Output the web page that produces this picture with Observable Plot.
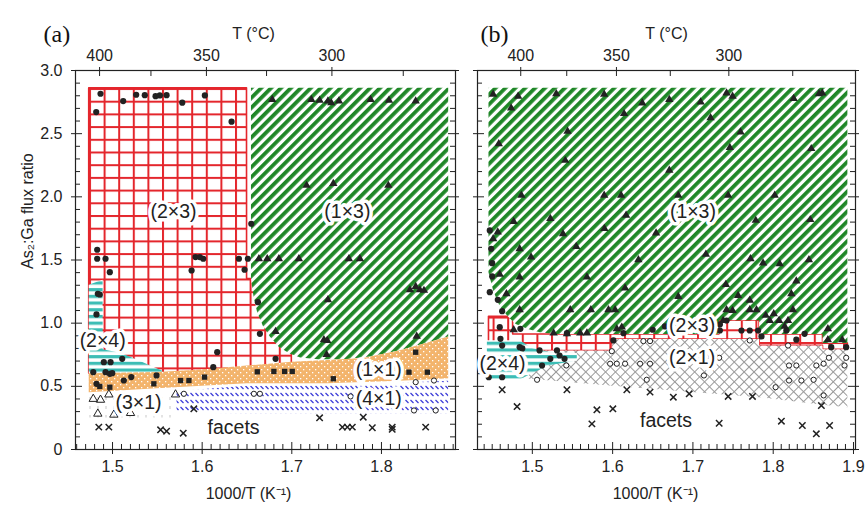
<!DOCTYPE html>
<html><head><meta charset="utf-8">
<script src="https://cdn.jsdelivr.net/npm/d3@7"></script>
<script src="https://cdn.jsdelivr.net/npm/@observablehq/plot@0.6"></script>
<style>
body{margin:0;background:#fff;}
#wrap{position:relative;width:865px;height:513px;overflow:hidden;background:#fff;}
#pa{position:absolute;left:0;top:0;}
#pb{position:absolute;left:462px;top:0;}
</style></head><body>
<svg width="0" height="0" style="position:absolute">
<defs>
 <pattern id="pRed" patternUnits="userSpaceOnUse" width="14.6" height="12.7" x="89" y="88">
   <rect width="14.6" height="12.7" fill="white"/>
   <rect width="2" height="12.7" fill="#e4262c"/>
   <rect width="14.6" height="2" fill="#e4262c"/>
 </pattern>
 <pattern id="pGreen" patternUnits="userSpaceOnUse" width="7" height="7" patternTransform="rotate(45)">
   <rect width="7" height="7" fill="white"/>
   <rect width="3.8" height="7" fill="#1f8727"/>
 </pattern>
 <pattern id="pCyan" patternUnits="userSpaceOnUse" width="8" height="6.7">
   <rect width="8" height="6.7" fill="white"/>
   <rect width="8" height="3.2" fill="#3dbdb5"/>
 </pattern>
 <pattern id="pOrange" patternUnits="userSpaceOnUse" width="6" height="6">
   <rect width="6" height="6" fill="#f3b46c"/>
   <rect x="0" y="0" width="1.3" height="1.3" fill="white"/>
   <rect x="3" y="3" width="1.3" height="1.3" fill="white"/>
 </pattern>
 <pattern id="pBlue" patternUnits="userSpaceOnUse" width="5" height="7">
   <rect width="5" height="7" fill="white"/>
   <line x1="0.5" y1="1" x2="3.5" y2="4" stroke="#3b3bd8" stroke-width="1.3"/>
 </pattern>
 <pattern id="pGray" patternUnits="userSpaceOnUse" width="7" height="7" patternTransform="rotate(45)">
   <rect width="7" height="7" fill="white"/>
   <line x1="0" y1="0.5" x2="7" y2="0.5" stroke="#9a9a9a" stroke-width="1"/>
   <line x1="0.5" y1="0" x2="0.5" y2="7" stroke="#9a9a9a" stroke-width="1"/>
 </pattern>
 <pattern id="pFaint" patternUnits="userSpaceOnUse" width="8" height="9">
   <rect width="8" height="9" fill="white"/>
   <line x1="2" y1="1" x2="2" y2="4" stroke="#c8c8c8" stroke-width="1"/>
 </pattern>
</defs></svg>
<div id="wrap"><div id="pa"></div><div id="pb"></div></div>
<script>
// ---------- tick labels ----------
const xMajorA = [1.5, 1.6, 1.7, 1.8];
const xMajorB = [1.5, 1.6, 1.7, 1.8, 1.9];
const yMajor = [0, 0.5, 1.0, 1.5, 2.0, 2.5, 3.0];
const tMajor = [400, 350, 300];
const tMinor = [375, 325, 275];
const xTitle = "1000/T (K\u207B\u00B9)";
const tTitle = "T (\u00B0C)";
const yTitle = "As\u2082:Ga flux ratio";

// ---------- regions [x, y1, y2] ----------
const redA = [[1.474,0.60,2.86],[1.650,0.60,2.86],[1.6501,0.60,1.35],[1.700,0.64,1.35]];
const greenA = [[1.655,1.35,2.86],[1.658,1.2,2.86],[1.662,1.08,2.86],[1.668,0.98,2.86],[1.676,0.89,2.86],[1.686,0.81,2.86],[1.698,0.755,2.86],[1.71,0.725,2.86],[1.73,0.71,2.86],[1.76,0.71,2.86],[1.79,0.735,2.86],[1.82,0.78,2.86],[1.85,0.84,2.86],[1.875,0.89,2.86]];
const cyanA = [[1.474,0.58,1.30],[1.4895,0.58,1.34],[1.4896,0.58,0.79],[1.51,0.58,0.76],[1.53,0.58,0.70],[1.556,0.58,0.62]];
const orangeA = [[1.474,0.45,0.60],[1.55,0.48,0.61],[1.60,0.50,0.63],[1.65,0.52,0.66],[1.70,0.52,0.69],[1.74,0.52,0.705],[1.78,0.53,0.72],[1.82,0.54,0.78],[1.85,0.55,0.84],[1.875,0.56,0.89]];
const blueA = [[1.572,0.29,0.46],[1.65,0.28,0.50],[1.75,0.28,0.505],[1.875,0.28,0.54]];
const faintA = [[1.474,0.25,0.43],[1.57,0.25,0.43]];

const redB = [[1.446,0.78,1.05],[1.476,0.78,1.05],[1.4761,0.78,0.91],[1.60,0.78,0.91],[1.6001,0.87,0.91],[1.733,0.87,0.91],[1.7331,0.87,1.02],[1.783,0.87,1.02],[1.7831,0.82,0.91],[1.862,0.82,0.91],[1.8621,0.79,0.84],[1.893,0.79,0.84]];
const greenB = [[1.446,1.40,2.86],[1.452,1.25,2.86],[1.46,1.13,2.86],[1.47,1.05,2.86],[1.48,0.99,2.86],[1.495,0.95,2.86],[1.51,0.925,2.86],[1.53,0.91,2.86],[1.733,0.91,2.86],[1.7331,1.02,2.86],[1.783,1.02,2.86],[1.7831,0.91,2.86],[1.862,0.91,2.86],[1.8621,0.84,2.86],[1.893,0.84,2.86]];
const grayB = [[1.49,0.56,0.78],[1.60,0.50,0.78],[1.6001,0.50,0.87],[1.66,0.47,0.87],[1.783,0.41,0.87],[1.7831,0.41,0.82],[1.862,0.35,0.82],[1.8621,0.35,0.79],[1.893,0.33,0.79]];
const cyanB = [[1.444,0.55,0.86],[1.485,0.55,0.86],[1.50,0.60,0.80],[1.52,0.66,0.77],[1.556,0.70,0.76]];

// ---------- data points [x, y] ----------
const circlesA = [[1.4866,2.816],[1.4818,2.671],[1.5119,2.758],[1.5264,2.808],[1.536,2.805],[1.548,2.797],[1.5528,2.803],[1.5603,2.805],[1.5778,2.745],[1.603,2.803],[1.6328,2.595],[1.6548,1.787],
[1.4829,1.581],[1.4829,1.51],[1.4922,1.51],[1.497,1.404],[1.4836,1.233],[1.4858,1.227],[1.4821,1.069],
[1.5882,1.417],[1.5926,1.523],[1.5974,1.523],[1.6012,1.51],[1.641,1.51],[1.6473,1.423],[1.651,1.51],
[1.6622,1.166],[1.6644,0.916],[1.6168,0.77],[1.6124,0.652],[1.6819,0.718],
[1.5108,0.718],[1.4903,0.691],[1.4978,0.691],[1.4785,0.612],[1.4922,0.612],[1.497,0.599],[1.4997,0.604],[1.5126,0.546],[1.5209,0.573],[1.5491,0.586],[1.4821,0.52]];
const trianglesA = [[1.6782,2.769],[1.7218,2.769],[1.731,2.763],[1.7403,2.758],[1.744,2.745],[1.7526,2.758],[1.7879,2.769],[1.8084,2.763],[1.8382,2.758],
[1.7165,2.09],[1.7463,2.104],[1.8077,2.09],
[1.6633,1.51],[1.6726,1.51],[1.6856,1.51],[1.7079,1.51],[1.7637,1.51],[1.776,1.51],
[1.7403,1.185],[1.6819,0.934],[1.7358,0.869],[1.7396,0.863],[1.7388,0.752],
[1.8318,1.264],[1.8382,1.29],[1.8429,1.264],[1.8474,1.259],[1.8393,0.895]];
const squaresA = [[1.4858,0.499],[1.497,0.493],[1.5461,0.52],[1.5759,0.546],[1.5852,0.546],[1.6027,0.573],[1.6615,0.615],[1.68,0.618],[1.692,0.618],[1.7005,0.618],[1.7463,0.56],[1.8382,0.77],[1.8307,0.612],[1.8512,0.612]];
const openCirclesA = [[1.5796,0.441],[1.6577,0.441],[1.6644,0.441],[1.7656,0.42],[1.8363,0.309],[1.8605,0.309],[1.8382,0.533],[1.8586,0.546]];
const crossesA = [[1.4847,0.177],[1.4959,0.177],[1.5536,0.156],[1.5603,0.145],[1.5789,0.129],[1.5907,0.322],[1.731,0.251],[1.7564,0.177],[1.762,0.177],[1.7675,0.177],[1.7797,0.256],[1.7898,0.172],[1.812,0.177],[1.812,0.16],[1.8493,0.177]];
const openTrianglesA = [[1.4785,0.40],[1.4866,0.393],[1.4959,0.435],[1.4836,0.283],[1.5015,0.275],[1.5201,0.288],[1.5703,0.435]];

const trianglesB = [[1.4512,2.811],[1.4823,2.795],[1.4736,2.702],[1.5298,2.816],[1.5895,2.811],[1.637,2.742],[1.6143,2.658],[1.5439,2.518],[1.4582,2.42],[1.541,2.288],[1.4864,2.011],[1.5895,2.011],[1.6106,2.011],[1.6168,1.853],[1.5224,1.827],[1.4768,1.805],[1.4569,1.721],[1.5382,1.708],[1.5898,1.748],[1.6541,1.713],[1.5547,1.607],[1.4842,1.589],[1.4512,1.668],[1.4984,1.523],[1.6706,2.209],
[1.6706,2.769],[1.7096,2.75],[1.7419,2.822],[1.7494,2.795],[1.722,2.626],[1.7593,2.513],[1.746,2.389],[1.8255,2.777],[1.857,2.816],[1.8611,2.822],[1.8474,2.381],[1.6818,2.011],[1.7439,2.011],[1.8019,2.011],[1.7783,1.813],[1.8462,1.819],[1.7162,1.544],[1.7717,1.51],[1.8445,1.502],
[1.568,1.364],[1.6155,1.277],[1.6321,1.502],[1.5472,1.106],[1.5729,1.106],[1.5948,1.106],[1.6031,1.106],[1.4842,1.106],[1.4842,1.364],[1.4594,1.386],[1.4677,1.233],[1.4768,0.948],[1.5265,0.921],[1.5431,0.916],[1.5597,0.921],[1.568,0.921],[1.6052,0.955],[1.6114,0.968],
[1.7874,1.475],[1.8081,1.47],[1.8288,1.333],[1.741,1.306],[1.6818,1.211],[1.7563,1.219],[1.7708,1.18],[1.8226,1.233],[1.7419,1.106],[1.7708,1.106],[1.7792,1.106],[1.8246,1.106],[1.7907,1.061],[1.8007,1.074],[1.7377,1.021],[1.7957,1.021],[1.8073,1.021],[1.8185,1.021],[1.8143,0.974],[1.8681,0.955],[1.8681,0.869],[1.886,0.869],[1.7494,1.1]];
const circlesB = [[1.447,1.734],[1.4487,1.589],[1.45,1.475],[1.45,1.37],[1.447,1.245],[1.457,1.185],[1.4624,1.095],[1.4594,0.968],[1.4603,0.876],[1.4624,0.823],[1.4842,0.81],[1.4875,0.80],[1.509,0.784],[1.5307,0.784],[1.5339,0.744],[1.5401,0.718],[1.5224,0.718],[1.5121,0.665],[1.4457,0.572],[1.4624,0.572],[1.5431,0.921],[1.601,0.863],[1.6135,0.921],[1.6499,0.948],[1.4851,0.955],
[1.7336,0.942],[1.7336,0.99],[1.7419,1.021],[1.7605,0.942],[1.7708,0.942],[1.7812,0.942],[1.7854,0.895],[1.8164,0.942],[1.8288,0.869],[1.8391,0.916],[1.8723,0.81],[1.8909,0.81],[1.6652,0.974]];
const openCirclesB = [[1.5059,0.552],[1.5423,0.665],[1.5969,0.679],[1.6052,0.679],[1.6155,0.679],[1.6342,0.679],[1.6466,0.679],[1.6425,0.552],[1.599,0.778],[1.6383,0.858],[1.6466,0.858],[1.7708,0.863],[1.8185,0.823],[1.8197,0.665],[1.8288,0.665],[1.8537,0.665],[1.8628,0.679],[1.8694,0.726],[1.8909,0.726],[1.8888,0.665],[1.8197,0.546],[1.8351,0.546],[1.8503,0.552],[1.803,0.493],[1.7137,0.586],[1.7327,0.726],[1.8628,0.428]];
const crossesB = [[1.4624,0.473],[1.481,0.34],[1.5431,0.473],[1.5742,0.203],[1.5804,0.314],[1.6003,0.322],[1.6177,0.473],[1.6466,0.454],[1.6756,0.414],[1.6954,0.441],[1.7439,0.42],[1.7742,0.42],[1.86,0.348],[1.7327,0.208],[1.8102,0.224],[1.8363,0.19],[1.8537,0.124],[1.8702,0.19]];

// ---------- region labels [text, x, y] ----------
const labelsA = [["(2\u00D73)",1.568,1.88],["(1\u00D73)",1.762,1.88],["(2\u00D74)",1.489,0.86],["(3\u00D71)",1.529,0.37],["(1\u00D71)",1.797,0.63],["(4\u00D71)",1.797,0.40],["facets",1.635,0.17]];
const labelsB = [["(1\u00D73)",1.70,1.88],["(2\u00D73)",1.699,0.98],["(2\u00D71)",1.699,0.73],["(2\u00D74)",1.4628,0.68],["facets",1.6665,0.23]];

// ---------- builder ----------
const H = 513, mt = 70, mb = 64;
const ink = "#222";
const yMinor = d3.range(1, 30).filter(i => i % 5 !== 0).map(i => i / 10);
const tx = t => 1000 / (t + 273.15);

function build(cfg) {
  const pw = cfg.width - cfg.ml - cfg.mr, ph = H - mt - mb;
  const xMinor = d3.range(140, 192).filter(i => i % 10 !== 0).map(i => i / 100)
    .filter(v => v > cfg.xDomain[0] && v < cfg.xDomain[1]);
  const P = {x: d => d[0], y: d => d[1]};
  const marks = [
    ...cfg.regions.map(([data, fill, stroke]) => Plot.areaY(data, {x: d => d[0], y1: d => d[1], y2: d => d[2], fill, stroke: stroke || "none", strokeWidth: 1.6})),
    Plot.frame({stroke: ink, strokeWidth: 1.2}),
    Plot.tickX(xMinor, {x: d => d, insetTop: ph - 5, stroke: ink}),
    Plot.tickX(cfg.xMajor, {x: d => d, insetTop: ph - 7, insetBottom: -5, stroke: ink}),
    Plot.tickX(tMajor, {x: tx, insetBottom: ph - 6, insetTop: -3, stroke: ink}),
    Plot.tickX(tMinor, {x: tx, insetBottom: ph - 6, stroke: ink}),
    Plot.tickY(yMinor, {y: d => d, insetRight: pw - 5, stroke: ink}),
    Plot.tickY(yMajor, {y: d => d, insetRight: pw - 7, insetLeft: -4, stroke: ink}),
    Plot.tickY(yMinor, {y: d => d, insetLeft: pw - 5, stroke: ink}),
    Plot.tickY(yMajor, {y: d => d, insetLeft: pw - 7, insetRight: -4, stroke: ink}),
    Plot.text(cfg.xMajor, {x: d => d, text: d => d.toFixed(1), frameAnchor: "bottom", dy: 22, fontSize: 16, fill: ink}),
    Plot.text(tMajor, {x: tx, text: d => String(d), frameAnchor: "top", dy: -21, fontSize: 16, fill: ink}),
    Plot.text([tTitle], {frameAnchor: "top", dy: -43, dx: cfg.tDx, fontSize: 16, fill: ink}),
    Plot.text([xTitle], {frameAnchor: "bottom", dy: 49, dx: cfg.xDx, fontSize: 16, fill: ink}),
    Plot.text([cfg.letter], {frameAnchor: "top-left", dx: cfg.letterDx, dy: -46, fontSize: 24, fill: "#111", fontFamily: "Liberation Serif, 'Times New Roman', serif"}),
    Plot.dot(cfg.circles, {...P, r: 3.1, fill: ink}),
    Plot.dot(cfg.triangles, {...P, symbol: "triangle", r: 3.1, fill: ink}),
    Plot.dot(cfg.squares || [], {...P, symbol: "square", r: 3, fill: ink}),
    Plot.dot(cfg.openCircles, {...P, r: 2.6, fill: "white", stroke: ink, strokeWidth: 1}),
    Plot.dot(cfg.crosses, {...P, symbol: "times", r: 3, stroke: ink, strokeWidth: 1.5}),
    Plot.dot(cfg.openTriangles || [], {...P, symbol: "triangle", r: 3.1, fill: "none", stroke: ink, strokeWidth: 1}),
    Plot.text(cfg.labels, {x: d => d[1], y: d => d[2], text: d => d[0], fontSize: 19.5, fill: ink, stroke: "white", strokeWidth: 7, strokeLinejoin: "round"})
  ];
  if (cfg.yLabels) {
    marks.push(Plot.text(yMajor, {y: d => d, text: d => d === 0 ? "0" : d.toFixed(1), frameAnchor: "left", dx: -13, textAnchor: "end", fontSize: 16, fill: ink}));
    marks.push(Plot.text([yTitle], {frameAnchor: "left", dx: -48, dy: 9, rotate: -90, fontSize: 16, fill: ink}));
  }
  return Plot.plot({
    width: cfg.width, height: H,
    marginTop: mt, marginBottom: mb, marginLeft: cfg.ml, marginRight: cfg.mr,
    x: {domain: cfg.xDomain, axis: null},
    y: {domain: [0, 3], axis: null},
    style: {background: "transparent", fontFamily: "'Liberation Sans', Arial, sans-serif", fontSize: "16px", color: ink},
    marks
  });
}

document.getElementById("pa").appendChild(build({
  width: 462, ml: 75, mr: 7, xDomain: [1.4587, 1.8826], xMajor: xMajorA,
  regions: [[redA, "url(#pRed)", "#e4262c"], [greenA, "url(#pGreen)"], [cyanA, "url(#pCyan)"], [orangeA, "url(#pOrange)"], [blueA, "url(#pBlue)"], [faintA, "url(#pFaint)"]],
  circles: circlesA, triangles: trianglesA, squares: squaresA, openCircles: openCirclesA, crosses: crossesA, openTriangles: openTrianglesA,
  labels: labelsA, letter: "(a)", letterDx: -32, tDx: -12, xDx: -17, yLabels: true
}));
document.getElementById("pb").appendChild(build({
  width: 403, ml: 15, mr: 10, xDomain: [1.4317, 1.9025], xMajor: xMajorB,
  regions: [[redB, "url(#pRed)", "#e4262c"], [greenB, "url(#pGreen)"], [grayB, "url(#pGray)"], [cyanB, "url(#pCyan)"]],
  circles: circlesB, triangles: trianglesB, openCircles: openCirclesB, crosses: crossesB,
  labels: labelsB, letter: "(b)", letterDx: 3, tDx: 0, xDx: -11, yLabels: false
}));
</script>
</body></html>
